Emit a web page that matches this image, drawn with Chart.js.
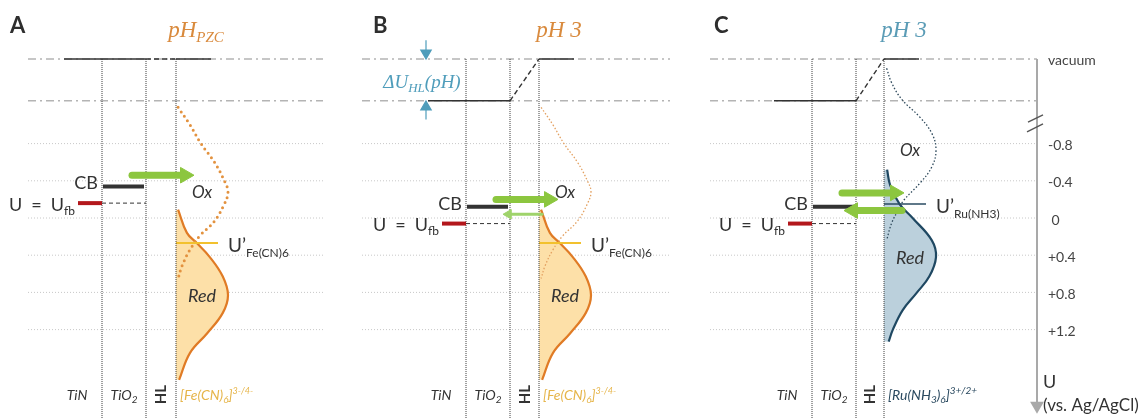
<!DOCTYPE html>
<html>
<head>
<meta charset="utf-8">
<script src="https://cdn.jsdelivr.net/npm/chart.js@4/dist/chart.umd.min.js"></script>
<style>
  html, body { margin: 0; padding: 0; background: #fff; }
  #wrap { width: 1141px; height: 418px; position: relative; }
</style>
</head>
<body>
<div id="wrap"><canvas id="diagram"></canvas></div>
<script>
// values, U in V vs. Ag/AgCl (axis points down)
const panelIds = ['A', 'B', 'C'];
const couples = ['fe', 'fe', 'ru'];
const tickValues = [-0.8, -0.4, 0, 0.4, 0.8, 1.2];
const tickLabels = ['-0.8', '-0.4', ' 0', '+0.4', '+0.8', '+1.2'];
const vacuumLevel = -1.71;   // schematic, above the axis break
const shiftedLevel = -1.26;  // electrode vacuum level after ΔU_HL
const electrodeVacuum = [vacuumLevel, shiftedLevel, shiftedLevel];
const cbLevel = [-0.34, -0.12, -0.12];
const fbLevel = [-0.16, 0.06, 0.06];
const redoxLevel = [0.27, 0.27, -0.15];
const transferOut = [-0.46, -0.20, -0.27];
const transferBack = [null, -0.04, -0.08];
const backStrength = [null, 'weak', 'strong'];

// density of states W(U), relative
const feOxU = [-1.19, -1.00, -0.80, -0.60, -0.40, -0.28, -0.14, 0.04, 0.19, 0.34, 0.51, 0.65];
const feOxD = [0.04, 0.27, 0.48, 0.74, 0.93, 1.00, 0.92, 0.73, 0.46, 0.27, 0.12, 0.04];
const feRedU = [-0.09, 0.16, 0.27, 0.42, 0.63, 0.83, 1.02, 1.24, 1.45, 1.74];
const feRedD = [0.04, 0.21, 0.40, 0.65, 0.90, 1.00, 0.90, 0.60, 0.27, 0.06];
const ruOxU = [-1.61, -1.45, -1.27, -1.09, -0.91, -0.73, -0.55, -0.38, -0.19, -0.09, 0.05, 0.24];
const ruOxD = [0.05, 0.15, 0.35, 0.68, 0.92, 1.00, 0.92, 0.70, 0.38, 0.28, 0.15, 0.05];
const ruRedU = [-0.52, -0.35, -0.15, 0.00, 0.24, 0.42, 0.63, 0.81, 0.99, 1.20, 1.33];
const ruRedD = [0.06, 0.12, 0.30, 0.55, 0.92, 1.00, 0.87, 0.62, 0.36, 0.17, 0.09];

// layout (x units)
const xMax = 1037;
const panelX = [102, 466, 812];   // TiN | TiO2
const tio2W = 44;
const hlW = [30, 29, 28];
const gridFrom = [28, 362, 710];
const gridTo = [323, 670, xMax];
const letterX = [10, 373, 714];
const distW = 52;
const yMin = -218 / 93, yMax = 200 / 93;

const ink = '#333';
const sans = 'Lato, "Open Sans", sans-serif';
const serif = '"Liberation Serif", "DejaVu Serif", serif';
const style = {
  fe: { line: '#e07b25', fill: '#fde0a8', level: '#f2c12e', text: '#e6b54a', sub: 'Fe(CN)6' },
  ru: { line: '#1f4862', fill: '#bbd0dc', level: '#2a4b62', text: '#2b4a60', sub: 'Ru(NH3)' }
};
const oxStyle = [
  { borderColor: '#e3923f', borderWidth: 3, borderDash: [0, 5.5], borderCapStyle: 'round' },
  { borderColor: '#e3a060', borderWidth: 1.3, borderDash: [1.5, 2] },
  { borderColor: '#2f4a5c', borderWidth: 1.3, borderDash: [1.5, 2] }
];
const green = '#8cc63f';

const datasets = [];
const texts = [];

function addLine(points, opts) {
  datasets.push(Object.assign({
    data: points, borderColor: ink, borderWidth: 1, pointRadius: 0, fill: false, tension: 0
  }, opts));
}

function addArrow(x0, x1, u, color, width, head) {
  const dir = x1 > x0 ? 1 : -1;
  addLine([{ x: x0, y: u }, { x: x1 - dir * head, y: u }], {
    borderColor: color, borderWidth: width, borderCapStyle: 'round',
    pointRadius: [0, head], pointStyle: 'triangle', pointRotation: dir > 0 ? 90 : -90,
    pointBackgroundColor: color, pointBorderColor: color, pointBorderWidth: 1
  });
}

function addCurve(us, ds, x0, opts) {
  addLine(us.map((u, i) => ({ x: x0 + distW * ds[i], y: u })),
    Object.assign({ indexAxis: 'y', tension: 0.4 }, opts));
}

function addText(x, u, align, color, parts, rotate) {
  texts.push({ x, u, align, color, parts, rotate });
}

function peakOf(us, ds) {
  return us[ds.indexOf(Math.max(...ds))];
}

// guides first
for (let p = 0; p < 3; p++) {
  [vacuumLevel, shiftedLevel].forEach(u => addLine([{ x: gridFrom[p], y: u }, { x: gridTo[p], y: u }],
    { borderColor: '#b4b4b4', borderWidth: 1.5, borderDash: [8, 4, 2, 4] }));
  tickValues.forEach(u => addLine([{ x: gridFrom[p], y: u }, { x: gridTo[p], y: u }],
    { borderColor: '#c8c8c8', borderWidth: 1, borderDash: [1, 2] }));
}

for (let p = 0; p < 3; p++) {
  const o = panelX[p], t = o + tio2W, h = t + hlW[p];
  const c = style[couples[p]];
  const oxU = couples[p] === 'fe' ? feOxU : ruOxU;
  const oxD = couples[p] === 'fe' ? feOxD : ruOxD;
  const redU = couples[p] === 'fe' ? feRedU : ruRedU;
  const redD = couples[p] === 'fe' ? feRedD : ruRedD;

  // Red (filled) and Ox (dotted) distributions
  addCurve(redU, redD, h, { borderColor: c.line, borderWidth: 2.2, fill: { value: h }, backgroundColor: c.fill });
  addCurve(oxU, oxD, h, oxStyle[p]);

  // formal potential
  addLine([{ x: h, y: redoxLevel[p] }, { x: h + 42, y: redoxLevel[p] }],
    { borderColor: c.level, borderWidth: p === 2 ? 1.6 : 2 });

  // layer boundaries
  [o, t, h].forEach(x => addLine([{ x: x, y: vacuumLevel }, { x: x, y: yMax + 0.1 }],
    { borderColor: '#3a3a3a', borderWidth: 1, borderDash: [1, 1] }));

  // vacuum level across the junction
  const ev = electrodeVacuum[p];
  addLine([{ x: o - 38, y: ev }, { x: t, y: ev }], { borderColor: ink, borderWidth: 1.6 });
  addLine([{ x: t, y: ev }, { x: h, y: vacuumLevel }], { borderColor: ink, borderWidth: 1.4, borderDash: [5, 3] });
  addLine([{ x: h, y: vacuumLevel }, { x: h + 35, y: vacuumLevel }], { borderColor: ink, borderWidth: 1.6 });

  // conduction band and flat band potential
  addLine([{ x: o + 1, y: cbLevel[p] }, { x: t - 2, y: cbLevel[p] }], { borderColor: ink, borderWidth: 4 });
  addLine([{ x: o - 24, y: fbLevel[p] }, { x: o, y: fbLevel[p] }], { borderColor: '#b3171c', borderWidth: 4 });
  addLine([{ x: o, y: fbLevel[p] }, { x: t, y: fbLevel[p] }], { borderColor: ink, borderWidth: 1, borderDash: [4, 3] });

  // electron transfer
  addArrow(o + 30, o + 92, transferOut[p], green, 7, 9);
  if (backStrength[p] === 'strong') addArrow(o + 90, o + 32, transferBack[p], green, 7, 9);
  if (backStrength[p] === 'weak') addArrow(o + 76, o + 37, transferBack[p], '#9fd36b', 3, 5.5);

  // labels
  addText(letterX[p], -2.07, 'left', '#2e2e2e', [{ t: panelIds[p], size: 22, style: 'bold' }]);
  const titleColor = p === 2 ? '#5b9cb6' : '#d98a3d';
  const title = p === 0
    ? [{ t: 'pH', size: 23, style: 'italic', fam: serif }, { t: 'PZC', size: 15, style: 'italic', fam: serif, dy: 5 }]
    : [{ t: 'pH 3', size: 23, style: 'italic', fam: serif }];
  addText(h + 20, -2.03, 'center', titleColor, title);
  addText(o - 4, cbLevel[p] - 0.04, 'right', ink, [{ t: 'CB', size: 18 }]);
  addText(o - 27, fbLevel[p] + 0.01, 'right', ink, [{ t: 'U\u2002=\u2002U', size: 18 }, { t: 'fb', size: 12, dy: 4 }]);
  addText(h + 26, peakOf(oxU, oxD), 'center', ink, [{ t: 'Ox', size: 17, style: 'italic' }]);
  addText(h + 26, peakOf(redU, redD), 'center', ink, [{ t: 'Red', size: 18, style: 'italic' }]);
  addText(h + 52, redoxLevel[p] + 0.02, 'left', ink, [{ t: 'U\u2019', size: 19 }, { t: c.sub, size: 12, dy: 5 }]);

  const bottomU = 1.90;
  addText(o - 25, bottomU, 'center', ink, [{ t: 'TiN', size: 14, style: 'italic' }]);
  addText(o + 22, bottomU, 'center', ink, [{ t: 'TiO', size: 14, style: 'italic' }, { t: '2', size: 10, style: 'italic', dy: 3 }]);
  addText((t + h) / 2, bottomU, 'center', ink, [{ t: 'HL', size: 15, style: 'bold' }], -Math.PI / 2);
  const elec = couples[p] === 'fe'
    ? [{ t: '[Fe(CN)', size: 14, style: 'italic' }, { t: '6', size: 10, style: 'italic', dy: 3 }, { t: ']', size: 14, style: 'italic' }, { t: '3-/4-', size: 9, style: 'italic', dy: -6 }]
    : [{ t: '[Ru(NH', size: 14, style: 'italic' }, { t: '3', size: 10, style: 'italic', dy: 3 }, { t: ')', size: 14, style: 'italic' }, { t: '6', size: 10, style: 'italic', dy: 3 }, { t: ']', size: 14, style: 'italic' }, { t: '3+/2+', size: 10, style: 'italic', dy: -6 }];
  addText(h + 4, bottomU, 'left', c.text, elec);

  if (p === 1) {
    // ΔU_HL(pH) marker between the two vacuum levels
    const ax = o - 40, blue = '#4f9dbb';
    addLine([{ x: ax, y: vacuumLevel - 0.20 }, { x: ax, y: vacuumLevel - 0.064 }], {
      borderColor: blue, borderWidth: 1.2, pointRadius: [0, 6], pointStyle: 'triangle',
      pointRotation: 180, pointBackgroundColor: blue, pointBorderColor: blue
    });
    addLine([{ x: ax, y: shiftedLevel + 0.20 }, { x: ax, y: shiftedLevel + 0.066 }], {
      borderColor: blue, borderWidth: 1.2, pointRadius: [0, 6], pointStyle: 'triangle',
      pointRotation: 0, pointBackgroundColor: blue, pointBorderColor: blue
    });
    addText(o - 44, -1.47, 'center', blue, [
      { t: '\u0394U', size: 19, style: 'italic', fam: serif },
      { t: 'HL', size: 13, style: 'italic', fam: serif, dy: 4 },
      { t: '(pH)', size: 19, style: 'italic', fam: serif }
    ]);
  }
}

// U axis with arrow and break
addLine([{ x: xMax, y: vacuumLevel }, { x: xMax, y: 2.02 }], {
  borderColor: '#a9a9a9', borderWidth: 2, clip: false,
  pointRadius: [0, 6], pointStyle: 'triangle', pointRotation: 180,
  pointBackgroundColor: '#a9a9a9', pointBorderColor: '#a9a9a9'
});
addLine([{ x: xMax + 6, y: -1.108 }, { x: xMax - 9, y: -1.032 }], { borderColor: '#555', borderWidth: 1.4, clip: false });
addLine([{ x: xMax + 6, y: -1.011 }, { x: xMax - 10, y: -0.925 }], { borderColor: '#555', borderWidth: 1.4, clip: false });
addText(xMax + 6, 1.76, 'left', ink, [{ t: 'U', size: 18 }]);
addText(xMax + 6, 2.01, 'left', ink, [{ t: '(vs. Ag/AgCl)', size: 17 }]);

// first pushed = bottom layer
datasets.reverse();

function fontOf(p) {
  return (p.style || '') + ' ' + p.size + 'px ' + (p.fam || sans);
}

const textPlugin = {
  id: 'texts',
  afterDraw(chart) {
    const { ctx, scales } = chart;
    texts.forEach(tx => {
      const px = scales.x.getPixelForValue(tx.x);
      const py = scales.y.getPixelForValue(tx.u);
      ctx.save();
      ctx.translate(px, py);
      if (tx.rotate) ctx.rotate(tx.rotate);
      let w = 0;
      tx.parts.forEach(p => { ctx.font = fontOf(p); w += ctx.measureText(p.t).width; });
      let cx = tx.align === 'right' ? -w : tx.align === 'center' ? -w / 2 : 0;
      const base = tx.parts[0].size * 0.36;
      ctx.fillStyle = tx.color;
      ctx.textAlign = 'left';
      ctx.textBaseline = 'alphabetic';
      tx.parts.forEach(p => {
        ctx.font = fontOf(p);
        ctx.fillText(p.t, cx, base + (p.dy || 0));
        cx += ctx.measureText(p.t).width;
      });
      ctx.restore();
    });
  }
};

const allTicks = [vacuumLevel].concat(tickValues);
const allLabels = ['vacuum'].concat(tickLabels);

new Chart(document.getElementById('diagram'), {
  type: 'line',
  data: { datasets: datasets },
  options: {
    responsive: true,
    maintainAspectRatio: false,
    animation: false,
    events: [],
    layout: { padding: 0, autoPadding: false },
    plugins: { legend: { display: false }, tooltip: { enabled: false } },
    scales: {
      x: { type: 'linear', display: false, min: 0, max: xMax },
      y: {
        type: 'linear',
        position: 'right',
        reverse: true,
        min: yMin,
        max: yMax,
        grid: { display: false, drawTicks: false },
        border: { display: false },
        afterBuildTicks: axis => { axis.ticks = allTicks.map(v => ({ value: v })); },
        afterFit: axis => { axis.width = 1141 - xMax; axis.paddingTop = 0; axis.paddingBottom = 0; },
        ticks: {
          autoSkip: false,
          padding: 11,
          labelOffset: 2,
          color: '#444',
          font: { family: sans, size: 14 },
          callback: (v, i) => allLabels[i]
        }
      }
    }
  },
  plugins: [textPlugin]
});
</script>
</body>
</html>
